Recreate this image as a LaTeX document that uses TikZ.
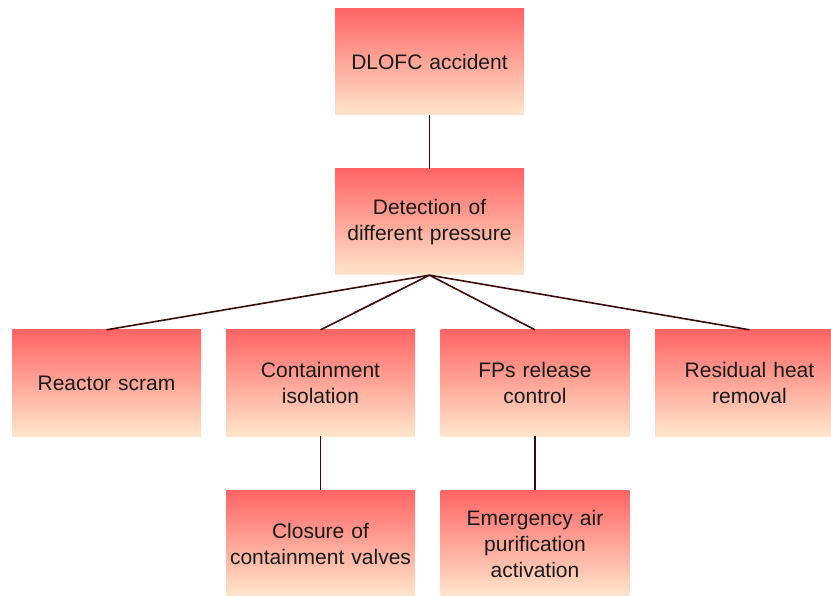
\documentclass[tikz,border=0pt]{standalone}
\usepackage{fontspec}
\setmainfont{Liberation Sans}
\definecolor{boxtop}{HTML}{FF6565}
\definecolor{boxbot}{HTML}{FFE6CC}
\definecolor{linkcol}{HTML}{3A0A0C}
\definecolor{txtcol}{HTML}{1A1A1A}
\tikzset{
  stepbox/.style={rectangle, minimum width=189pt, minimum height=106pt,
    inner sep=0pt, text width=189pt, align=center,
    top color=boxtop, bottom color=boxbot, draw=none,
    font=\fontsize{21pt}{26pt}\selectfont, text=txtcol},
  link/.style={draw=linkcol, line width=1.6pt}
}
\begin{document}
\begin{tikzpicture}[x=1pt,y=-1pt]
  \useasboundingbox (0,0) rectangle (831,596);
  \clip (0,0) rectangle (831,596);
  % top chain
  \node[stepbox] (acc) at (429.5,61.5) {DLOFC accident};
  \node[stepbox] (det) at (429.5,222) {Detection of\\different pressure};
  % second row
  \node[stepbox] (scram) at (106.5,383) {Reactor scram};
  \node[stepbox] (iso) at (320.5,383) {Containment\\isolation};
  \node[stepbox] (fps) at (535,383) {FPs release\\control};
  \node[stepbox] (heat) at (749.5,383) {Residual heat\\removal};
  % third row
  \node[stepbox] (valves) at (320.5,543.5) {Closure of\\containment valves};
  \node[stepbox] (air) at (535,543.5) {Emergency air\\purification\\activation};
  % connectors
  \draw[link] (acc.south) -- (det.north);
  \draw[link] (det.south) -- (scram.north);
  \draw[link] (det.south) -- (iso.north);
  \draw[link] (det.south) -- (fps.north);
  \draw[link] (det.south) -- (heat.north);
  \draw[link] (iso.south) -- (valves.north);
  \draw[link] (fps.south) -- (air.north);
\end{tikzpicture}
\end{document}
